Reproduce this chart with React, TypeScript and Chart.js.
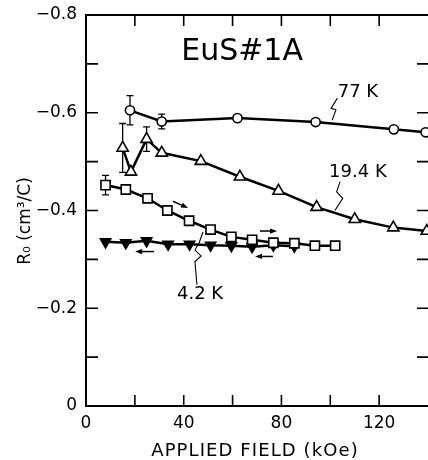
import React, { useEffect, useRef } from "react";
import { Chart, registerables } from "chart.js";

Chart.register(...registerables);

// ---- data (kOe, cm^3/C) ----
const field77 = [18, 31, 62, 94, 126, 139];
const r77 = [-0.605, -0.582, -0.589, -0.581, -0.566, -0.56];
const err77 = [0.03, 0.015, 0, 0, 0, 0];

const field194 = [15, 18.4, 24.8, 31, 47, 63, 78.8, 94.4, 110, 125.8, 139.5];
const r194 = [-0.528, -0.479, -0.546, -0.518, -0.501, -0.469, -0.44, -0.407, -0.382, -0.365, -0.358];
const err194 = [0.05, 0, 0.025, 0, 0, 0, 0, 0, 0, 0, 0];

const field42Up = [8, 16.3, 25.2, 33.3, 42.2, 51, 59.5, 68, 76.7, 85.3, 93.7, 102];
const r42Up = [-0.452, -0.443, -0.425, -0.4, -0.379, -0.361, -0.346, -0.34, -0.334, -0.333, -0.328, -0.328];
const err42Up = [0.02, 0, 0, 0, 0, 0, 0, 0, 0, 0, 0, 0];

const field42Down = [8, 16.3, 24.8, 33.6, 42.4, 51, 59.5, 68, 76.7, 85.3];
const r42Down = [-0.336, -0.334, -0.338, -0.331, -0.331, -0.329, -0.328, -0.326, -0.329, -0.327];

const xTicks = [0, 20, 40, 60, 80, 100, 120, 140];
const xTickLabels = ["0", "", "40", "", "80", "", "120", ""];
const yTicks = [-0.8, -0.7, -0.6, -0.5, -0.4, -0.3, -0.2, -0.1, 0];
const yTickLabels = ["\u22120.8", "", "\u22120.6", "", "\u22120.4", "", "\u22120.2", "", "0"];

const chartTitle = "EuS#1A";
const titleX = 63.9;
const titleY = -0.724;

const labelTexts = ["77 K", "19.4 K", "4.2 K"];
const labelX = [111.3, 111.3, 46.7];
const labelY = [-0.642, -0.479, -0.229];

const squiggle77X = [102.9, 100.3, 102.3, 100.8];
const squiggle77Y = [-0.63, -0.609, -0.606, -0.585];
const squiggle194X = [104.0, 102.6, 105.1, 101.9];
const squiggle194Y = [-0.459, -0.438, -0.425, -0.4];
const squiggle42X = [45.4, 44.6, 47.1, 44.6, 46.3, 47.9];
const squiggle42Y = [-0.248, -0.295, -0.307, -0.319, -0.334, -0.356];

const arrowFromX = [35.6, 71.2, 76.5, 27.8];
const arrowFromY = [-0.419, -0.358, -0.306, -0.316];
const arrowToX = [41.8, 78.2, 69.2, 20.1];
const arrowToY = [-0.405, -0.358, -0.306, -0.316];

const xTitle = "APPLIED FIELD (kOe)";
const yTitle = "R\u2080 (cm\u00b3/C)";

const FONT = "'DejaVu Sans', sans-serif";

function pts(xs: number[], ys: number[]) {
  return xs.map((x, i) => ({ x, y: ys[i] }));
}

const overlayPlugin = {
  id: "overlay",
  beforeDatasetsDraw(chart: any) {
    const { ctx, scales } = chart;
    const xs = scales.x;
    const ys = scales.y;
    ctx.save();
    ctx.strokeStyle = "#000";
    ctx.lineWidth = 1.3;
    const sets: [number[], number[], number[]][] = [
      [field77, r77, err77],
      [field194, r194, err194],
      [field42Up, r42Up, err42Up],
    ];
    sets.forEach(([fx, fy, fe]) => {
      fx.forEach((x, i) => {
        if (!fe[i]) return;
        const px = xs.getPixelForValue(x);
        const p1 = ys.getPixelForValue(fy[i] - fe[i]);
        const p2 = ys.getPixelForValue(fy[i] + fe[i]);
        ctx.beginPath();
        ctx.moveTo(px, p1);
        ctx.lineTo(px, p2);
        ctx.moveTo(px - 3.5, p1);
        ctx.lineTo(px + 3.5, p1);
        ctx.moveTo(px - 3.5, p2);
        ctx.lineTo(px + 3.5, p2);
        ctx.stroke();
      });
    });
    ctx.restore();
  },
  afterDraw(chart: any) {
    const { ctx, scales, chartArea } = chart;
    const xs = scales.x;
    const ys = scales.y;
    const { left, right, top, bottom } = chartArea;
    ctx.save();
    ctx.strokeStyle = "#000";
    ctx.fillStyle = "#000";

    // top spine
    ctx.lineWidth = 2;
    ctx.beginPath();
    ctx.moveTo(left - 1, top);
    ctx.lineTo(right, top);
    ctx.stroke();

    // inward ticks
    ctx.lineWidth = 1.6;
    xTicks.forEach((v) => {
      if (v <= 0 || v >= 140) return;
      const px = xs.getPixelForValue(v);
      ctx.beginPath();
      ctx.moveTo(px, bottom);
      ctx.lineTo(px, bottom - 11);
      ctx.moveTo(px, top);
      ctx.lineTo(px, top + 11);
      ctx.stroke();
    });
    yTicks.forEach((v) => {
      if (v <= -0.8 || v >= 0) return;
      const py = ys.getPixelForValue(v);
      ctx.beginPath();
      ctx.moveTo(left, py);
      ctx.lineTo(left + 12, py);
      ctx.moveTo(right, py);
      ctx.lineTo(right - 11, py);
      ctx.stroke();
    });

    // title
    ctx.textAlign = "center";
    ctx.textBaseline = "middle";
    ctx.font = `30px ${FONT}`;
    ctx.fillText(chartTitle, xs.getPixelForValue(titleX), ys.getPixelForValue(titleY));

    // series labels
    ctx.font = `18px ${FONT}`;
    labelTexts.forEach((t, i) => {
      ctx.fillText(t, xs.getPixelForValue(labelX[i]), ys.getPixelForValue(labelY[i]));
    });

    // squiggle leaders
    ctx.lineWidth = 1.1;
    const drawPoly = (px: number[], py: number[]) => {
      ctx.beginPath();
      px.forEach((x, i) => {
        const X = xs.getPixelForValue(x);
        const Y = ys.getPixelForValue(py[i]);
        if (i === 0) ctx.moveTo(X, Y);
        else ctx.lineTo(X, Y);
      });
      ctx.stroke();
    };
    drawPoly(squiggle77X, squiggle77Y);
    drawPoly(squiggle194X, squiggle194Y);
    drawPoly(squiggle42X, squiggle42Y);

    // arrows
    arrowFromX.forEach((fx, i) => {
      const x1 = xs.getPixelForValue(fx);
      const y1 = ys.getPixelForValue(arrowFromY[i]);
      const x2 = xs.getPixelForValue(arrowToX[i]);
      const y2 = ys.getPixelForValue(arrowToY[i]);
      const ang = Math.atan2(y2 - y1, x2 - x1);
      const hl = 7;
      const hw = 2.6;
      ctx.lineWidth = 1.5;
      ctx.beginPath();
      ctx.moveTo(x1, y1);
      ctx.lineTo(x2 - Math.cos(ang) * hl * 0.6, y2 - Math.sin(ang) * hl * 0.6);
      ctx.stroke();
      ctx.beginPath();
      ctx.moveTo(x2, y2);
      ctx.lineTo(
        x2 - Math.cos(ang) * hl - Math.sin(ang) * hw,
        y2 - Math.sin(ang) * hl + Math.cos(ang) * hw
      );
      ctx.lineTo(
        x2 - Math.cos(ang) * hl + Math.sin(ang) * hw,
        y2 - Math.sin(ang) * hl - Math.cos(ang) * hw
      );
      ctx.closePath();
      ctx.fill();
    });

    // axis titles
    try {
      (ctx as any).letterSpacing = "1.1px";
    } catch (e) {}
    ctx.font = `18px ${FONT}`;
    ctx.textAlign = "center";
    ctx.textBaseline = "alphabetic";
    ctx.fillText(xTitle, 255, 456);
    try {
      (ctx as any).letterSpacing = "0px";
    } catch (e) {}

    ctx.save();
    ctx.translate(30, 221);
    ctx.rotate(-Math.PI / 2);
    ctx.font = `17px ${FONT}`;
    ctx.textAlign = "center";
    ctx.textBaseline = "alphabetic";
    ctx.fillText(yTitle, 0, 0);
    ctx.restore();

    ctx.restore();
  },
};

export default function App() {
  const ref = useRef<HTMLCanvasElement | null>(null);

  useEffect(() => {
    if (!ref.current) return;
    const lineBase = {
      borderColor: "#000",
      borderWidth: 2.5,
      pointBorderColor: "#000",
      pointBorderWidth: 1.6,
      tension: 0,
      clip: false as any,
    };
    const chart = new Chart(ref.current, {
      type: "line",
      data: {
        datasets: [
          {
            ...lineBase,
            label: "77 K",
            data: pts(field77, r77),
            pointStyle: "circle",
            pointRadius: 4.6,
            pointBackgroundColor: "#fff",
          },
          {
            ...lineBase,
            label: "19.4 K",
            data: pts(field194, r194),
            pointStyle: "triangle",
            pointRadius: 6.5,
            pointBackgroundColor: "#fff",
          },
          {
            ...lineBase,
            label: "4.2 K up",
            data: pts(field42Up, r42Up),
            pointStyle: "rect",
            pointRadius: 6.5,
            pointBackgroundColor: "#fff",
          },
          {
            ...lineBase,
            label: "4.2 K down",
            data: pts(field42Down, r42Down),
            pointStyle: "triangle",
            pointRotation: 180,
            pointRadius: 6,
            pointBackgroundColor: "#000",
          },
        ],
      },
      options: {
        animation: false,
        responsive: false,
        maintainAspectRatio: false,
        layout: { autoPadding: false, padding: { top: 15, left: 0, right: 0, bottom: 0 } },
        plugins: { legend: { display: false }, tooltip: { enabled: false }, title: { display: false } },
        scales: {
          x: {
            type: "linear",
            min: 0,
            max: 140,
            grid: { display: false, drawTicks: false },
            border: { display: true, color: "#000", width: 2 },
            afterBuildTicks: (scale: any) => {
              scale.ticks = xTicks.map((v) => ({ value: v }));
            },
            afterFit: (scale: any) => {
              scale.height = 54;
              scale.paddingLeft = 0;
              scale.paddingRight = 0;
            },
            ticks: {
              color: "#000",
              font: { family: FONT, size: 17 },
              padding: 7,
              maxRotation: 0,
              autoSkip: false,
              callback: (_v: any, i: number) => xTickLabels[i],
            },
          },
          y: {
            type: "linear",
            min: -0.8,
            max: 0,
            reverse: true,
            grid: { display: false, drawTicks: false },
            border: { display: true, color: "#000", width: 2 },
            afterBuildTicks: (scale: any) => {
              scale.ticks = yTicks.map((v) => ({ value: v }));
            },
            afterFit: (scale: any) => {
              scale.width = 86;
              scale.paddingTop = 0;
              scale.paddingBottom = 0;
            },
            ticks: {
              color: "#000",
              font: { family: FONT, size: 17 },
              padding: 9,
              autoSkip: false,
              callback: (_v: any, i: number) => yTickLabels[i],
            },
          },
        },
      },
      plugins: [overlayPlugin],
    } as any);
    return () => chart.destroy();
  }, []);

  return (
    <div style={{ position: "absolute", left: 0, top: 0, width: 428, height: 460, background: "#fff" }}>
      <canvas ref={ref} width={428} height={460} style={{ width: 428, height: 460 }} />
    </div>
  );
}
